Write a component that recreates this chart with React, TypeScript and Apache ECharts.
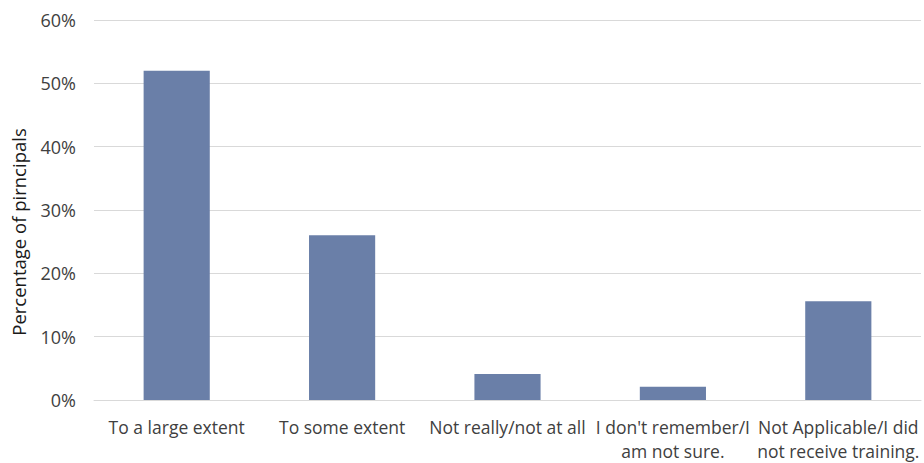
import React, { useEffect, useRef } from "react";
import * as echarts from "echarts";

const categories = [
  "To a large extent",
  "To some extent",
  "Not really/not at all",
  "I don't remember/I\nam not sure.",
  "Not Applicable/I did\nnot receive training.",
];
const shares = [52, 26, 4.1, 2.1, 15.6];
const yTicks = { min: 0, max: 60, interval: 10 };
const yName = "Percentage of pirncipals";

const FONT = "'Open Sans', sans-serif";
const TEXT = "#404040";

export default function App() {
  const ref = useRef<HTMLDivElement>(null);

  useEffect(() => {
    document.body.style.margin = "0";
    const chart = echarts.init(ref.current!, null, { renderer: "svg" });
    chart.setOption({
      animation: false,
      backgroundColor: "#ffffff",
      grid: { left: 94, right: 3, top: 20, bottom: 60 },
      xAxis: {
        type: "category",
        data: categories,
        axisLine: { lineStyle: { color: "#d9d9d9", width: 1 } },
        axisTick: { show: false },
        axisLabel: {
          color: TEXT,
          fontFamily: FONT,
          fontSize: 17.5,
          lineHeight: 24,
          margin: 15,
          interval: 0,
        },
      },
      yAxis: {
        type: "value",
        min: yTicks.min,
        max: yTicks.max,
        interval: yTicks.interval,
        axisLine: { show: false },
        axisTick: { show: false },
        splitLine: { lineStyle: { color: "#d9d9d9", width: 1 } },
        axisLabel: {
          color: TEXT,
          fontFamily: FONT,
          fontSize: 18,
          margin: 18,
          formatter: "{value}%",
        },
      },
      graphic: [
        {
          type: "text",
          x: 18,
          y: 232,
          rotation: Math.PI / 2,
          style: {
            text: yName,
            fill: "#1a1a1a",
            font: `18.5px ${FONT}`,
            textAlign: "center",
            textVerticalAlign: "middle",
          },
        },
      ],
      series: [
        {
          type: "bar",
          data: shares,
          barWidth: "40%",
          itemStyle: { color: "#6a7fa8" },
        },
      ],
    });
    return () => chart.dispose();
  }, []);

  return <div ref={ref} style={{ width: 924, height: 463 }} />;
}
